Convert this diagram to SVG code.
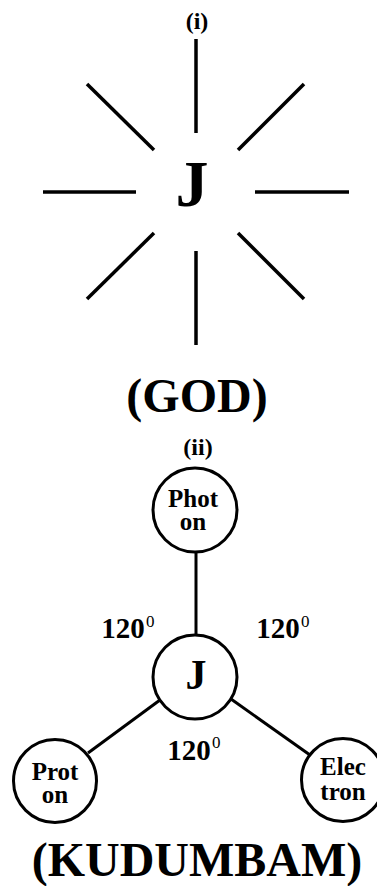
<svg xmlns="http://www.w3.org/2000/svg" width="377" height="886" viewBox="0 0 377 886">
<style>
.t{font-family:"Liberation Serif","Times New Roman",serif;font-weight:bold;fill:#000;text-anchor:middle}
.n{font-size:25px}
.deg{font-family:"Liberation Serif","Times New Roman",serif;fill:#000;font-size:17px}
.ray{stroke:#000;stroke-width:3.5;fill:none}
.con{stroke:#000;stroke-width:3;fill:none}
.node{stroke:#000;stroke-width:3;fill:#fff}
</style>
<rect width="377" height="886" fill="#fff"/>
<text class="t" x="197" y="29" font-size="24">(i)</text>
<g id="rays">
<line class="ray" x1="196" y1="39" x2="196" y2="133"/>
<line class="ray" x1="87" y1="84" x2="154" y2="150"/>
<line class="ray" x1="304" y1="84" x2="238" y2="150"/>
<line class="ray" x1="43" y1="192" x2="136" y2="192"/>
<line class="ray" x1="255" y1="192" x2="349" y2="192"/>
<line class="ray" x1="154" y1="233" x2="87" y2="299"/>
<line class="ray" x1="238" y1="233" x2="304" y2="299"/>
<line class="ray" x1="196" y1="251" x2="196" y2="345"/>
</g>
<g id="god-j"><text class="t" x="192" y="206" font-size="66">J</text></g>
<text class="t" x="197" y="412" font-size="48">(GOD)</text>
<text class="t" x="198" y="455" font-size="24">(ii)</text>
<g id="connectors">
<line class="con" x1="196" y1="552" x2="196" y2="635"/>
<line class="con" x1="160" y1="700" x2="88" y2="753"/>
<line class="con" x1="231" y1="699" x2="310" y2="755"/>
</g>
<g id="photon">
<circle class="node" cx="195" cy="510" r="42"/>
<text class="t n" x="193" y="507">Phot</text>
<text class="t n" x="193" y="530">on</text>
</g>
<g id="j">
<circle class="node" cx="195" cy="677" r="42"/>
<text class="t" x="196" y="689" font-size="42">J</text>
</g>
<g id="proton">
<circle class="node" cx="55" cy="781" r="41.5"/>
<text class="t n" x="55" y="780">Prot</text>
<text class="t n" x="55" y="803">on</text>
</g>
<g id="electron">
<circle class="node" cx="343" cy="780" r="41.5"/>
<text class="t n" x="343" y="775">Elec</text>
<text class="t n" x="343" y="800">tron</text>
</g>
<g id="angles">
<text class="t" x="123" y="638" font-size="29">120</text><text class="deg" x="146" y="627">0</text>
<text class="t" x="278" y="638" font-size="29">120</text><text class="deg" x="301" y="627">0</text>
<text class="t" x="189" y="760" font-size="29">120</text><text class="deg" x="212" y="748">0</text>
</g>
<text class="t" x="197" y="876" font-size="48">(KUDUMBAM)</text>
</svg>
